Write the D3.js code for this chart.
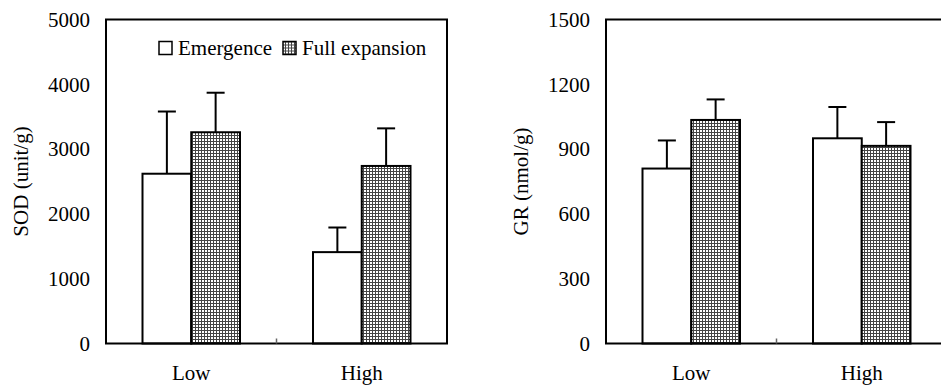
<!DOCTYPE html>
<html>
<head>
<meta charset="utf-8">
<script src="https://cdn.jsdelivr.net/npm/d3@7"></script>
<style>
  body { margin: 0; background: #fff; }
  svg { display: block; font-family: "Liberation Serif", "Times New Roman", serif; }
</style>
</head>
<body>
<div id="chart"></div>
<script>
// data
const categories = ["Low", "High"];
const seriesNames = ["Emergence", "Full expansion"];

const sodMean = [[2620, 3260], [1410, 2740]];   // [category][series]
const sodErr  = [[960, 610], [380, 580]];
const sodTicks = [0, 1000, 2000, 3000, 4000, 5000];

const grMean = [[810, 1035], [950, 915]];
const grErr  = [[130, 95], [145, 110]];
const grTicks = [0, 300, 600, 900, 1200, 1500];

const W = 941, H = 387;
const FONT = "'Liberation Serif', 'Times New Roman', serif";
const svg = d3.select("#chart").append("svg")
  .attr("width", W)
  .attr("height", H);

// hatch pattern for full expansion
const defs = svg.append("defs");
const pat = defs.append("pattern")
  .attr("id", "grid")
  .attr("width", 3)
  .attr("height", 3)
  .attr("patternUnits", "userSpaceOnUse");
pat.append("rect").attr("width", 3).attr("height", 3).attr("fill", "#fff");
pat.append("path")
  .attr("d", "M0.5,0V3M0,0.5H3")
  .attr("stroke", "#444")
  .attr("stroke-width", 1);

const fills = ["#fff", "url(#grid)"];

function panel(left, means, errs, ticks, ymax, label, legend) {
  const top = 19.5, bottom = 343.5, width = 341;
  const g = svg.append("g");

  const x0 = d3.scaleBand()
    .domain(categories)
    .range([left, left + width]);
  const x1 = d3.scaleBand()
    .domain(seriesNames)
    .range([0, 97.5]);
  const y = d3.scaleLinear()
    .domain([0, ymax])
    .range([bottom, top]);

  // y tick labels
  const yAxis = d3.axisLeft(y)
    .tickValues(ticks)
    .tickFormat(d3.format("d"))
    .tickSize(0)
    .tickPadding(16);
  g.append("g")
    .attr("transform", `translate(${left},0)`)
    .call(yAxis)
    .call(a => a.select(".domain").remove())
    .call(a => a.selectAll("text")
      .attr("fill", "#000")
      .style("font-size", "21px")
      .style("font-family", FONT));

  // x labels
  const xAxis = d3.axisBottom(x0).tickSize(0).tickPadding(22);
  g.append("g")
    .attr("transform", `translate(0,${bottom})`)
    .call(xAxis)
    .call(a => a.select(".domain").remove())
    .call(a => a.selectAll("text")
      .attr("fill", "#000")
      .style("font-size", "21px")
      .style("font-family", FONT));

  // bars
  categories.forEach((c, i) => {
    const cx = x0(c) + x0.bandwidth() / 2 - 48.75;
    seriesNames.forEach((s, j) => {
      const bx = cx + x1(s);
      const bw = x1.bandwidth();
      const v = means[i][j], e = errs[i][j];
      const mid = bx + bw / 2;
      // error bar (upper only)
      g.append("line")
        .attr("x1", mid).attr("x2", mid)
        .attr("y1", y(v)).attr("y2", y(v + e))
        .attr("stroke", "#000").attr("stroke-width", 2);
      g.append("line")
        .attr("x1", mid - 9).attr("x2", mid + 9)
        .attr("y1", y(v + e)).attr("y2", y(v + e))
        .attr("stroke", "#000").attr("stroke-width", 2);
      g.append("rect")
        .attr("x", bx).attr("y", y(v))
        .attr("width", bw).attr("height", y(0) - y(v))
        .attr("fill", fills[j])
        .attr("stroke", "#000").attr("stroke-width", 2);
    });
  });

  // frame
  g.append("rect")
    .attr("x", left).attr("y", top)
    .attr("width", width).attr("height", bottom - top)
    .attr("fill", "none")
    .attr("stroke", "#000").attr("stroke-width", 2);

  // category divider tick
  g.append("line")
    .attr("x1", left + width / 2).attr("x2", left + width / 2)
    .attr("y1", bottom).attr("y2", bottom - 5)
    .attr("stroke", "#666").attr("stroke-width", 1.5);

  // y label
  g.append("text")
    .attr("transform", `translate(${left - 78},${(top + bottom) / 2}) rotate(-90)`)
    .attr("text-anchor", "middle")
    .style("font-size", "21px")
    .text(label);

  if (legend) {
    const lg = g.append("g").attr("transform", `translate(${left + 53},${41.5})`);
    seriesNames.forEach((s, j) => {
      const ox = j === 0 ? 0 : 124;
      lg.append("rect")
        .attr("x", ox).attr("y", 0)
        .attr("width", 13).attr("height", 13)
        .attr("fill", fills[j])
        .attr("stroke", "#000").attr("stroke-width", 1.5);
      lg.append("text")
        .attr("x", ox + 19).attr("y", 13)
        .style("font-size", "21px")
        .text(s);
    });
  }
}

panel(106, sodMean, sodErr, sodTicks, 5000, "SOD (unit/g)", true);
panel(606, grMean, grErr, grTicks, 1500, "GR (nmol/g)", false);
</script>
</body>
</html>
